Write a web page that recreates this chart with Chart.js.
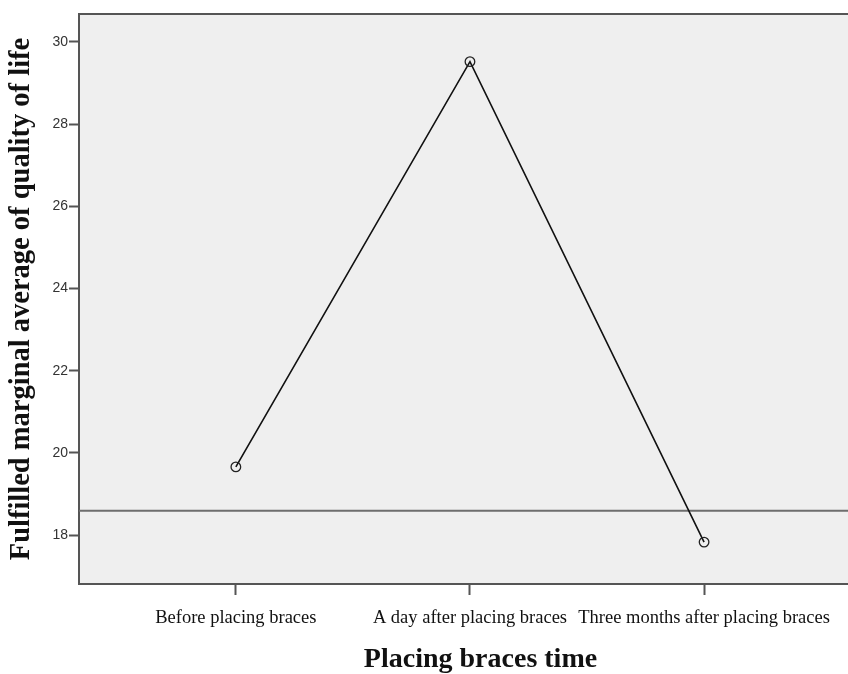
<!DOCTYPE html>
<html>
<head>
<meta charset="utf-8">
<script src="https://cdn.jsdelivr.net/npm/chart.js@4.4.1/dist/chart.umd.min.js"></script>
<style>
  html, body { margin: 0; padding: 0; background: #fff; overflow: hidden; }
  #wrap { width: 848px; height: 674px; overflow: hidden; }
</style>
</head>
<body>
<div id="wrap"><canvas id="profileChart" width="882" height="674"></canvas></div>
<script>
// Profile plot values
const categories = ['Before placing braces', 'A day after placing braces', 'Three months after placing braces'];
const marginalMeans = [19.66, 29.52, 17.83];
const yTicks = [18, 20, 22, 24, 26, 28, 30];
const refLineValue = 18.59; // horizontal reference line

const points = marginalMeans.map((v, i) => ({ x: i, y: v }));

// Grey plot background, top frame line and the reference line
const plotDecor = {
    id: 'plotDecor',
    beforeDraw(chart) {
        const { ctx, chartArea: a } = chart;
        ctx.save();
        ctx.fillStyle = '#efefef';
        ctx.fillRect(a.left, a.top, a.right - a.left, a.bottom - a.top);
        ctx.restore();
    },
    beforeDatasetsDraw(chart) {
        const { ctx, chartArea: a, scales } = chart;
        const y = scales.y.getPixelForValue(refLineValue);
        ctx.save();
        ctx.strokeStyle = '#6e6e6e';
        ctx.lineWidth = 2;
        ctx.beginPath();
        ctx.moveTo(a.left, y);
        ctx.lineTo(a.right, y);
        ctx.stroke();
        ctx.restore();
    },
    afterDraw(chart) {
        const { ctx, chartArea: a } = chart;
        ctx.save();
        ctx.strokeStyle = '#555';
        ctx.lineWidth = 2;
        ctx.beginPath();
        ctx.moveTo(a.left - 1, a.top);
        ctx.lineTo(a.right, a.top);
        ctx.stroke();
        ctx.restore();
    }
};

const serif = '"Liberation Serif", "Times New Roman", serif';

const ctx = document.getElementById('profileChart').getContext('2d');
new Chart(ctx, {
    type: 'line',
    data: {
        datasets: [{
            label: 'Estimated marginal means',
            data: points,
            borderColor: '#111',
            borderWidth: 1.6,
            tension: 0,
            fill: false,
            pointRadius: 4.8,
            pointBorderWidth: 1.3,
            pointBorderColor: '#222',
            pointBackgroundColor: 'rgba(0,0,0,0)'
        }]
    },
    options: {
        responsive: false,
        animation: false,
        layout: { autoPadding: false, padding: { top: 14, right: 0, left: 0, bottom: 0 } },
        plugins: {
            legend: { display: false },
            tooltip: { enabled: false }
        },
        scales: {
            x: {
                type: 'linear',
                min: -0.67,
                max: 2.76,
                grid: { display: true, drawOnChartArea: false, drawTicks: true, tickLength: 11, tickColor: '#555', tickWidth: 2 },
                border: { display: true, color: '#555', width: 2 },
                afterBuildTicks: scale => { scale.ticks = categories.map((c, i) => ({ value: i })); },
                afterFit: scale => { scale.height = 90; },
                ticks: {
                    autoSkip: false,
                    maxRotation: 0,
                    minRotation: 0,
                    padding: 12,
                    color: '#111',
                    font: { family: serif, size: 18.5 },
                    callback: v => categories[v]
                },
                title: {
                    display: true,
                    text: 'Placing braces time',
                    color: '#111',
                    padding: { top: 0, bottom: 0 },
                    font: { family: serif, size: 28, weight: 'bold', lineHeight: 1.0 }
                }
            },
            y: {
                min: 16.81,
                max: 30.68,
                grid: { display: true, drawOnChartArea: false, drawTicks: true, tickLength: 10, tickColor: '#555', tickWidth: 2 },
                border: { display: true, color: '#555', width: 2 },
                afterBuildTicks: scale => { scale.ticks = yTicks.map(v => ({ value: v })); },
                afterFit: scale => { scale.width = 79; },
                ticks: {
                    padding: 1,
                    color: '#333',
                    font: { family: '"Liberation Sans", Arial, sans-serif', size: 14 }
                },
                title: {
                    display: true,
                    text: 'Fulfilled marginal average of quality of life',
                    color: '#111',
                    padding: { top: 5, bottom: 0 },
                    font: { family: serif, size: 28.5, weight: 'bold' }
                }
            }
        }
    },
    plugins: [plotDecor]
});
</script>
</body>
</html>
